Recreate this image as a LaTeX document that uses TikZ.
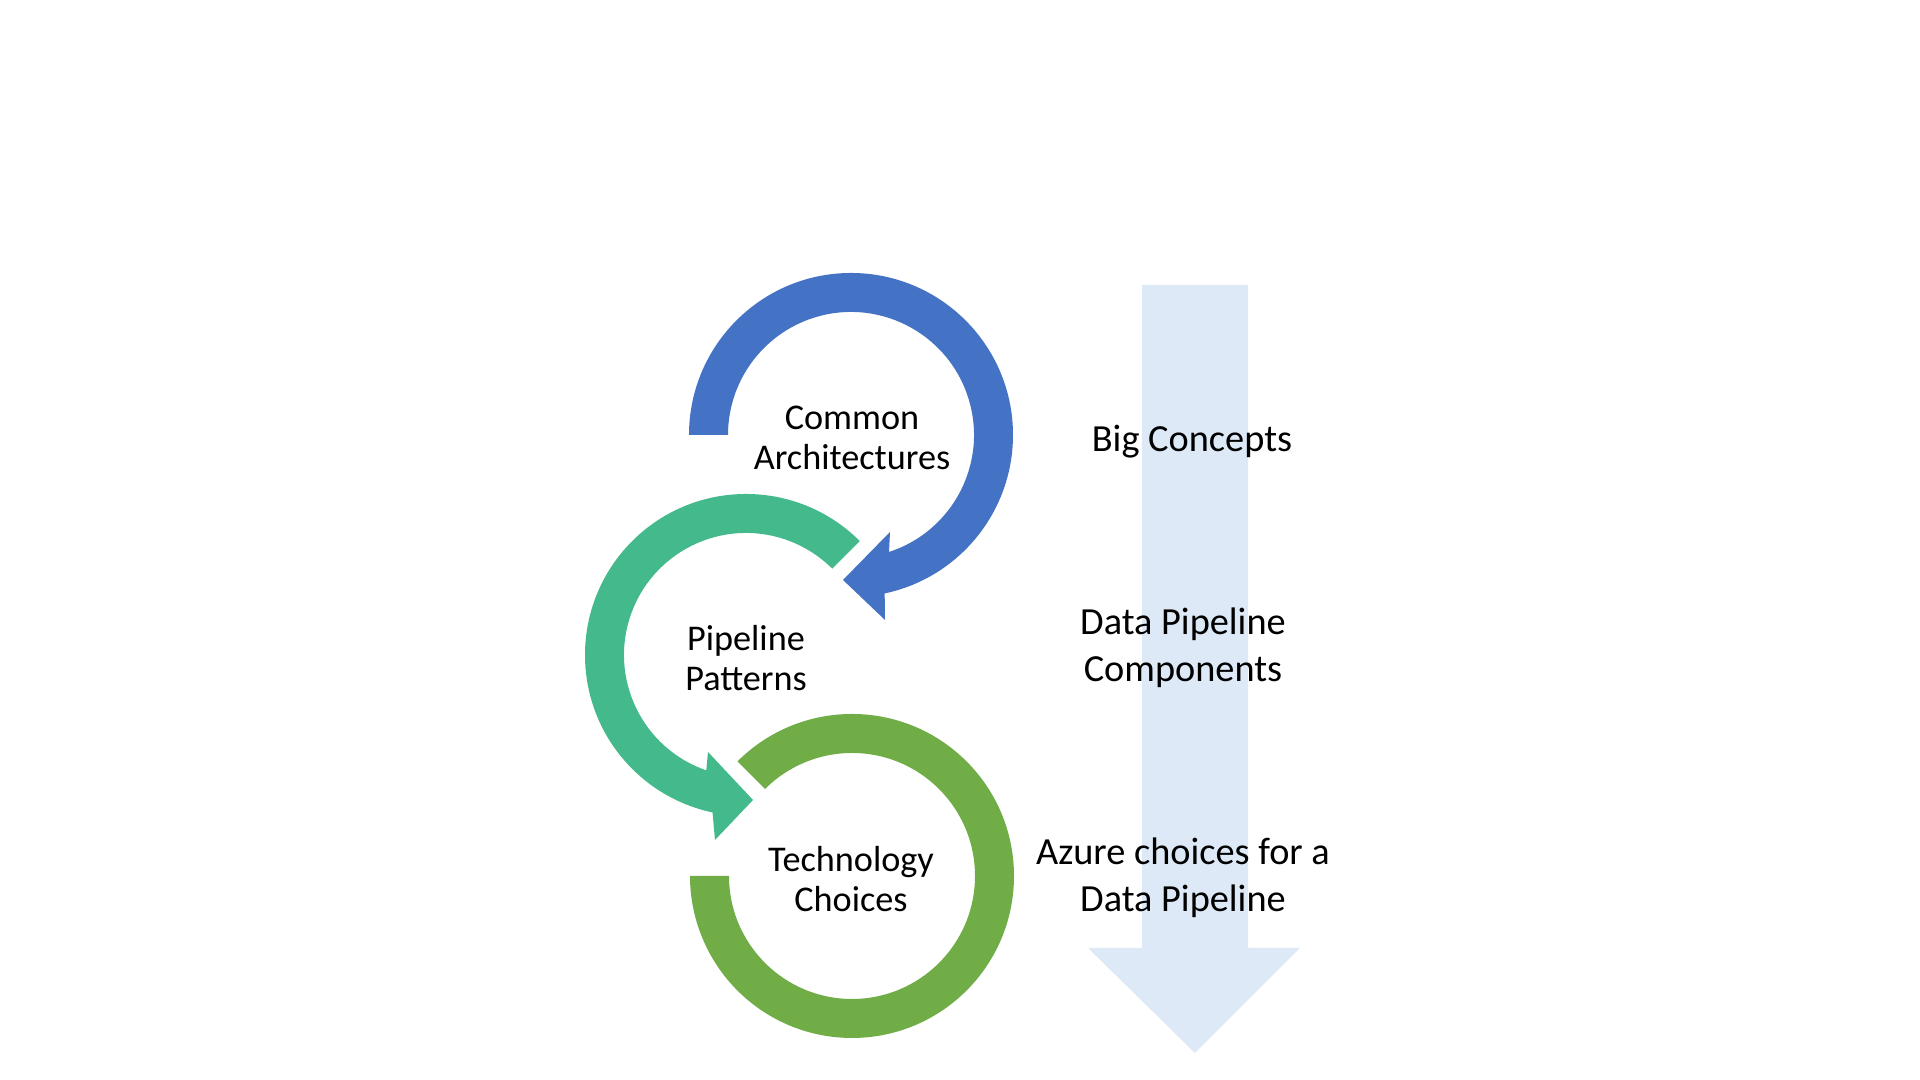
\documentclass[tikz,border=0pt]{standalone}
\usepackage{fontspec}
\setmainfont{Carlito}
\usetikzlibrary{calc}
\definecolor{ringblue}{HTML}{4472C4}
\definecolor{ringteal}{HTML}{44BA8C}
\definecolor{ringgreen}{HTML}{70AD47}
\definecolor{bigarrow}{HTML}{DDE9F6}
\tikzset{
  ringlabel/.style={align=center, text=black, font=\fontsize{10.3pt}{11.6pt}\selectfont, inner sep=0pt},
  sidelabel/.style={align=center, text=black, font=\fontsize{10.9pt}{13.2pt}\selectfont, inner sep=0pt},
}
\begin{document}
\begin{tikzpicture}[x=0.01cm, y=0.01cm]
\useasboundingbox (0,0) rectangle (1920,1080);
\fill[white] (0,0) rectangle (1920,1080);

% big light-blue down arrow
\fill[bigarrow] (1142,795) -- (1248,795) -- (1248,132) -- (1300,132) -- (1195,27)
  -- (1088,132) -- (1142,132) -- cycle;

% centers
\coordinate (B) at (851,645);
\coordinate (T) at (746,425);
\coordinate (G) at (852,204);

% blue circular arrow
\fill[ringblue] ($(B)+(180:162)$) arc[start angle=180, end angle=-78, radius=162]
  -- (885,460) -- (843,500) -- (890,548)
  -- ($(B)+(-72:123)$) arc[start angle=-72, end angle=180, radius=123] -- cycle;

% teal circular arrow
\fill[ringteal] ($(T)+(45:161)$) arc[start angle=45, end angle=258, radius=161]
  -- (715,240) -- (753,280) -- (708,328)
  -- ($(T)+(251:122)$) arc[start angle=251, end angle=45, radius=122] -- cycle;

% green ring
\fill[ringgreen] ($(G)+(135:162)$) arc[start angle=135, end angle=-180, radius=162]
  -- ($(G)+(180:123)$) arc[start angle=-180, end angle=135, radius=123] -- cycle;

% labels
\node[ringlabel] (ca) at (852,642) {Common\\Architectures};
\node[ringlabel] (pp) at (746,422) {Pipeline\\Patterns};
\node[ringlabel] (tc) at (851,201) {Technology\\Choices};

\node[sidelabel] (bc) at (1192,638) {Big Concepts};
\node[sidelabel] (dp) at (1183,432) {Data Pipeline\\Components};
\node[sidelabel] (az) at (1183,202) {Azure choices for a\\Data Pipeline};
\end{tikzpicture}
\end{document}
